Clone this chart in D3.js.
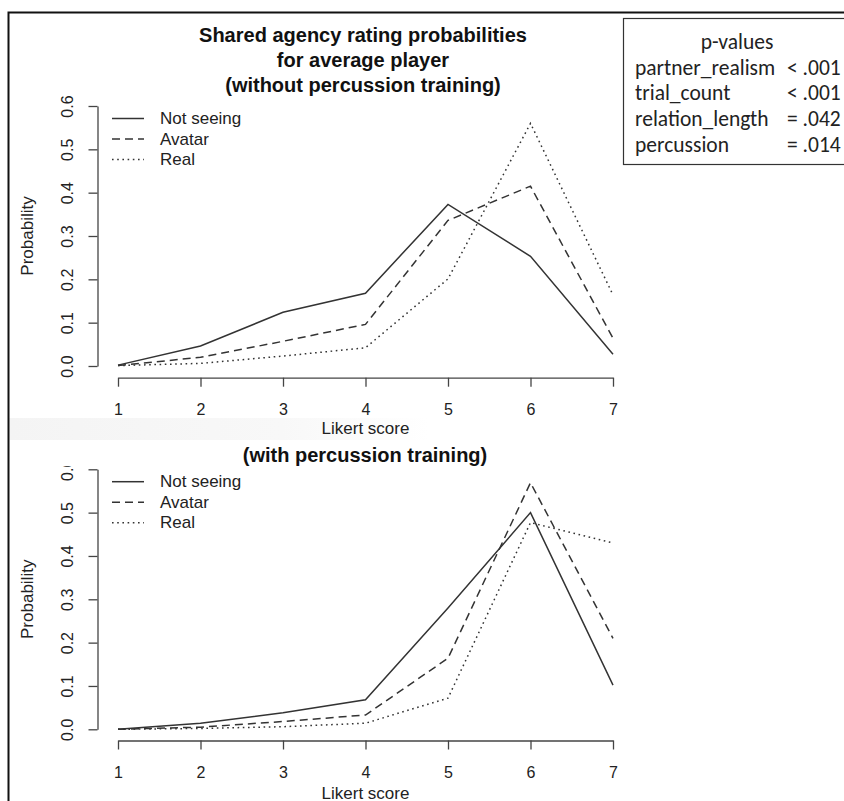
<!DOCTYPE html>
<html>
<head>
<meta charset="utf-8">
<script src="https://cdn.jsdelivr.net/npm/d3@7"></script>
<style>
  html, body { margin: 0; padding: 0; background: #fff; }
  svg { display: block; }
  .axis text { font-family: "Liberation Sans", Arial, sans-serif; font-size: 16px; fill: #222; }
  .axis path, .axis line { stroke: #444; stroke-width: 1.3; }
</style>
</head>
<body>
<svg id="chart" width="844" height="801"></svg>
<script>
// Likert scale categories
const likert = [1, 2, 3, 4, 5, 6, 7];
const seriesNames = ["Not seeing", "Avatar", "Real"];

// Predicted probabilities, player without percussion training
const notSeeingWithout = [0.002, 0.046, 0.124, 0.168, 0.373, 0.253, 0.027];
const avatarWithout    = [0.001, 0.020, 0.057, 0.096, 0.336, 0.415, 0.064];
const realWithout      = [0.001, 0.006, 0.023, 0.042, 0.201, 0.560, 0.164];

// Predicted probabilities, player with percussion training
const notSeeingWith = [0.000, 0.014, 0.038, 0.068, 0.280, 0.500, 0.102];
const avatarWith    = [0.000, 0.005, 0.018, 0.033, 0.164, 0.569, 0.210];
const realWith      = [0.000, 0.002, 0.006, 0.014, 0.072, 0.477, 0.430];

const yTicks = [0, 0.1, 0.2, 0.3, 0.4, 0.5, 0.6];

// Model term significance
const pTerms  = ["partner_realism", "trial_count", "relation_length", "percussion"];
const pValues = ["< .001", "< .001", "= .042", "= .014"];

const titleLines = ["Shared agency rating probabilities", "for average player", "(without percussion training)"];
const subTitle = "(with percussion training)";

const dashes = [null, "8,5", "1.6,3.6"];
const lineColor = "#333";
const textFont = "Liberation Sans, Arial, sans-serif";

const svg = d3.select("#chart");
const defs = svg.append("defs");

// faint seam between the two panels
const grad = defs.append("linearGradient").attr("id", "seam");
grad.append("stop").attr("offset", "0%").attr("stop-color", "#f4f4f4");
grad.append("stop").attr("offset", "65%").attr("stop-color", "#f8f8f8");
grad.append("stop").attr("offset", "100%").attr("stop-color", "#ffffff");
svg.append("rect").attr("x", 9).attr("y", 418).attr("width", 420).attr("height", 22)
  .attr("fill", "url(#seam)");

// lower panel's y labels are cut at the panel's top edge
defs.append("clipPath").attr("id", "lowerClip")
  .append("rect").attr("x", 0).attr("y", 466).attr("width", 844).attr("height", 340);

// outer frame (left and top edges)
svg.append("path").attr("d", "M8.5,801 V12.5 H844")
  .attr("fill", "none").attr("stroke", "#111").attr("stroke-width", 2);

const x = d3.scaleLinear().domain([1, 7]).range([118, 613]);

function drawPanel(opts) {
  const y = d3.scaleLinear().domain([0, 0.6]).range([opts.y0, opts.y0 - 260]);
  const g = svg.append("g");

  // y axis
  const yWrap = g.append("g");
  if (opts.clip) yWrap.attr("clip-path", "url(#lowerClip)");
  const ya = yWrap.append("g").attr("class", "axis")
    .attr("transform", `translate(97.5,0)`)
    .call(d3.axisLeft(y).tickValues(yTicks).tickSize(9).tickSizeOuter(0).tickFormat(d3.format(".1f")));
  ya.selectAll("text")
    .attr("x", null).attr("dy", null).attr("y", 0)
    .attr("text-anchor", "middle")
    .attr("transform", "translate(-24.5,0) rotate(-90)");

  // x axis
  const xa = g.append("g").attr("class", "axis")
    .attr("transform", `translate(0,${opts.xAxisY})`)
    .call(d3.axisBottom(x).tickValues(likert).tickSize(9).tickSizeOuter(0).tickFormat(d3.format("d")));
  xa.selectAll("text").attr("dy", null).attr("y", opts.tickLabelDy).attr("dominant-baseline", "central");

  // axis titles
  g.append("text").attr("x", 365.5).attr("y", opts.xTitleY)
    .attr("text-anchor", "middle").attr("dominant-baseline", "central")
    .style("font-family", textFont).style("font-size", "17px").style("fill", "#222")
    .text("Likert score");
  g.append("text")
    .attr("transform", `translate(27,${(y(0) + y(0.6)) / 2}) rotate(-90)`)
    .attr("text-anchor", "middle").attr("dominant-baseline", "central")
    .style("font-family", textFont).style("font-size", "17px").style("fill", "#222")
    .text("Probability");

  // series lines
  const line = d3.line().x((d, i) => x(likert[i])).y(d => y(d));
  opts.series.forEach((vals, k) => {
    g.append("path").datum(vals)
      .attr("d", line)
      .attr("fill", "none")
      .attr("stroke", lineColor)
      .attr("stroke-width", 1.5)
      .attr("stroke-dasharray", dashes[k]);
  });

  // legend
  seriesNames.forEach((name, k) => {
    const ly = opts.legendY + k * 20.5;
    g.append("line").attr("x1", 112).attr("x2", 144).attr("y1", ly).attr("y2", ly)
      .attr("stroke", lineColor).attr("stroke-width", 1.5).attr("stroke-dasharray", dashes[k]);
    g.append("text").attr("x", 160).attr("y", ly)
      .attr("dominant-baseline", "central")
      .style("font-family", textFont).style("font-size", "17px").style("fill", "#222")
      .text(name);
  });
}

drawPanel({
  y0: 366, xAxisY: 377.7, tickLabelDy: 32, xTitleY: 428,
  legendY: 118.5, series: [notSeeingWithout, avatarWithout, realWithout]
});
drawPanel({
  y0: 729.3, xAxisY: 740.5, tickLabelDy: 31.5, xTitleY: 793,
  legendY: 481.7, series: [notSeeingWith, avatarWith, realWith], clip: true
});

// titles
titleLines.forEach((t, i) => {
  svg.append("text").attr("x", 363).attr("y", 35 + i * 25)
    .attr("text-anchor", "middle").attr("dominant-baseline", "central")
    .style("font-family", textFont).style("font-size", "20px")
    .style("font-weight", "bold").style("fill", "#111")
    .text(t);
});
svg.append("text").attr("x", 365).attr("y", 455)
  .attr("text-anchor", "middle").attr("dominant-baseline", "central")
  .style("font-family", textFont).style("font-size", "20px")
  .style("font-weight", "bold").style("fill", "#111")
  .text(subTitle);

// p-value box
const box = svg.append("g");
box.append("rect").attr("x", 623.5).attr("y", 18.5).attr("width", 240).attr("height", 146)
  .attr("fill", "#fff").attr("stroke", "#333").attr("stroke-width", 1.2);
const boxFont = "Carlito, Calibri, 'Open Sans', sans-serif";
const boxSize = "21.5px";
box.append("text").attr("x", 737).attr("y", 42)
  .attr("text-anchor", "middle").attr("dominant-baseline", "central")
  .style("font-family", boxFont).style("font-size", boxSize).style("fill", "#222")
  .text("p-values");
pTerms.forEach((t, i) => {
  const ry = 67.5 + i * 25.7;
  box.append("text").attr("x", 635).attr("y", ry).attr("dominant-baseline", "central")
    .style("font-family", boxFont).style("font-size", boxSize).style("fill", "#222").text(t);
  box.append("text").attr("x", 787).attr("y", ry).attr("dominant-baseline", "central")
    .style("font-family", boxFont).style("font-size", boxSize).style("fill", "#222").text(pValues[i]);
});
</script>
</body>
</html>
